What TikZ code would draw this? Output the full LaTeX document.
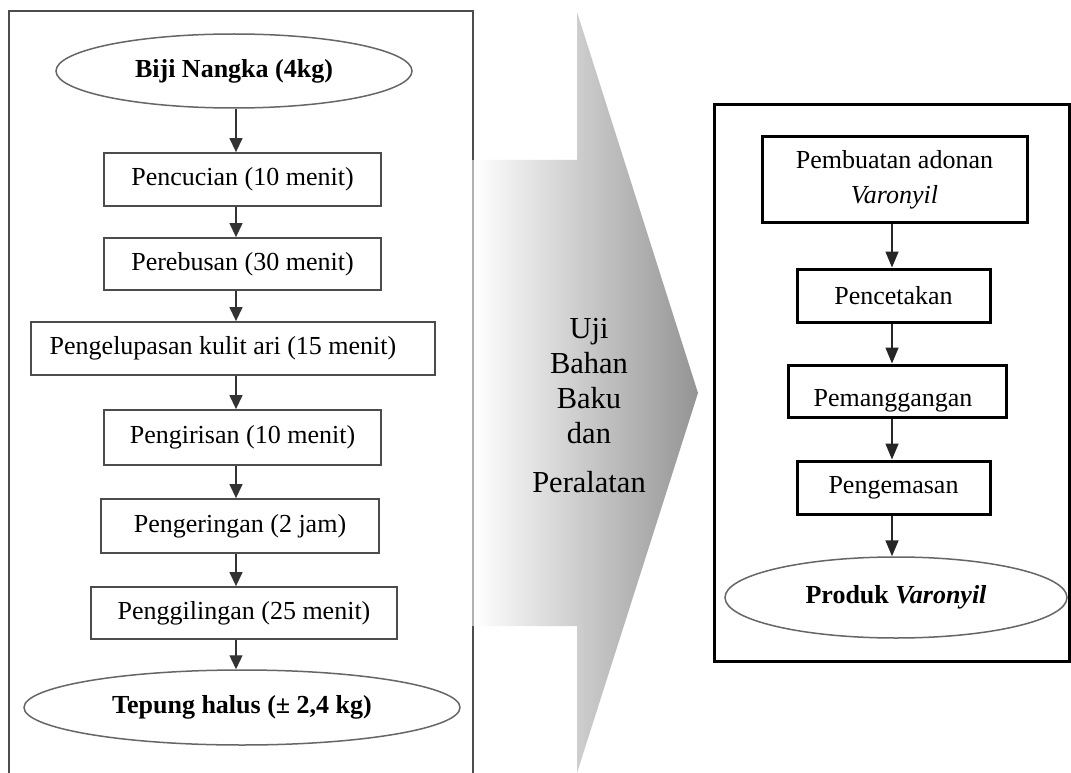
\documentclass[tikz,border=0pt]{standalone}
\usepackage{fontspec}
\setmainfont{Liberation Serif}
\usetikzlibrary{shapes.geometric,arrows.meta}
\begin{document}
\begin{tikzpicture}[x=1pt,y=-1pt,
  txt/.style={font=\fontsize{26}{35}\selectfont, text=black},
  lbox/.style={txt, rectangle, draw=black!70, line width=1.8pt, inner sep=0pt},
  rbox/.style={txt, rectangle, draw=black, line width=3pt, inner sep=0pt, align=center},
  oval/.style={txt, ellipse, draw=black!60, line width=1.5pt, inner sep=0pt, font=\fontsize{26}{35}\selectfont\bfseries},
  larr/.style={draw=black!80, line width=1.3pt, -{Triangle[length=14pt,width=13pt]}},
  rarr/.style={draw=black!85, line width=1.6pt, -{Triangle[length=16pt,width=13pt]}}
]
\useasboundingbox (0,0) rectangle (1071,773);
\fill[white] (0,0) rectangle (1071,773);

% big shaded arrow
\shade[left color=white, right color=black!42]
  (474,160) -- (577,160) -- (577,12) -- (698,393) -- (577,773) -- (577,626) -- (474,626) -- cycle;
\node[font=\fontsize{30.5}{35}\selectfont, align=center] (uji) at (589,406)
  {Uji\\Bahan\\Baku\\dan\\[14pt]Peralatan};

% left frame
\draw[line width=1.8pt, black!70] (473,160) -- (473,11) -- (9,11) -- (9,773);
\draw[line width=1.8pt, black!70] (473,626) -- (473,773);
\draw[line width=1.5pt, black!30] (473,160) -- (473,626);

% left column
\coordinate (ax) at (236,0);
\node[oval, minimum width=356pt, minimum height=74pt] (e1) at (234,71) {Biji Nangka (4kg)};
\node[lbox, minimum width=277pt, minimum height=53pt] (b1) at (242.5,179.5) {Pencucian (10 menit)};
\node[lbox, minimum width=277pt, minimum height=52pt] (b2) at (242.5,264) {Perebusan (30 menit)};
\node[lbox, minimum width=404pt, minimum height=53pt] (b3) at (233,348.5) {\hspace*{-20pt}Pengelupasan kulit ari (15 menit)};
\node[lbox, minimum width=277pt, minimum height=55pt] (b4) at (242.5,437.5) {Pengirisan (10 menit)};
\node[lbox, minimum width=278pt, minimum height=54pt] (b5) at (240,526) {Pengeringan (2 jam)};
\node[lbox, minimum width=306pt, minimum height=52pt] (b6) at (244,613) {Penggilingan (25 menit)};
\node[oval, minimum width=436pt, minimum height=75pt] (e2) at (242,707.5) {Tepung halus (\textpm{} 2,4 kg)};

\draw[larr] (e1.south -| ax) -- (b1.north -| ax);
\draw[larr] (b1.south -| ax) -- (b2.north -| ax);
\draw[larr] (b2.south -| ax) -- (b3.north -| ax);
\draw[larr] (b3.south -| ax) -- (b4.north -| ax);
\draw[larr] (b4.south -| ax) -- (b5.north -| ax);
\draw[larr] (b5.south -| ax) -- (b6.north -| ax);
\draw[larr] (b6.south -| ax) -- (e2.north -| ax);

% right frame
\draw[line width=3pt, black] (714,105) rectangle (1069,661);

% right column
\coordinate (bx) at (892,0);
\node[rbox, minimum width=265pt, minimum height=85pt] (r1) at (894.5,179.5) {Pembuatan adonan\\\textit{Varonyil}};
\node[rbox, minimum width=193pt, minimum height=53pt] (r2) at (893.5,295.5) {Pencetakan};
\node[rbox, minimum width=218pt, minimum height=52pt,
      label={[txt, xshift=-4pt, yshift=-10pt]center:Pemanggangan}] (r3) at (897,391) {};
\node[rbox, minimum width=193pt, minimum height=53pt] (r4) at (893.5,487.5) {Pengemasan};
\node[oval, minimum width=342pt, minimum height=81pt] (e3) at (896,597.5) {Produk \textit{Varonyil}};

\draw[rarr] (r1.south -| bx) -- (r2.north -| bx);
\draw[rarr] (r2.south -| bx) -- (r3.north -| bx);
\draw[rarr] (r3.south -| bx) -- (r4.north -| bx);
\draw[rarr] (r4.south -| bx) -- (e3.north -| bx);
\end{tikzpicture}
\end{document}
